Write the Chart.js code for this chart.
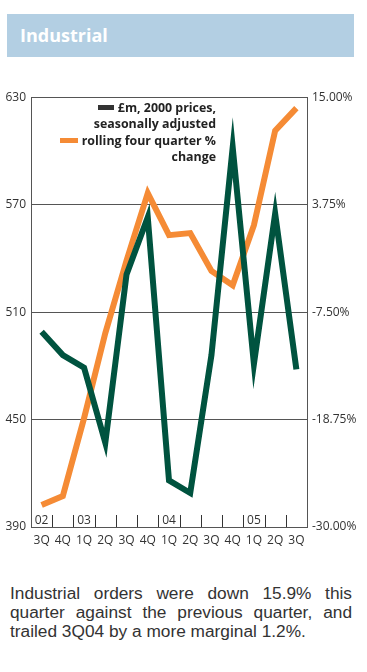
<!DOCTYPE html>
<html>
<head>
<meta charset="utf-8">
<script src="https://cdn.jsdelivr.net/npm/chart.js@4.4.1/dist/chart.umd.min.js"></script>
<style>
  html, body { margin: 0; padding: 0; background: #fff; }
  body { width: 367px; height: 672px; position: relative; overflow: hidden; }
  .header {
    position: absolute; left: 7px; top: 14px; width: 347px; height: 43px;
    background: #b3cfe3; box-sizing: border-box; padding: 9px 0 0 13px;
    color: #fff; font: bold 18px/24px "Open Sans", sans-serif;
  }
  .chart-wrap { position: absolute; left: 0; top: 85px; width: 367px; height: 470px; }
  .legend {
    position: absolute; right: 151px; top: 100px; text-align: right;
    font: bold 12.4px/16.3px "Open Sans", sans-serif; color: #222; z-index: 2;
  }
  .swatch { display: inline-block; height: 5px; vertical-align: middle; margin-right: 4px; position: relative; top: -1px; }
  .note {
    position: absolute; left: 10px; top: 584px; width: 342px;
    font: 17.3px/19px "Liberation Sans", Arial, sans-serif; color: #333;
  }
  .note div { text-align: justify; text-align-last: justify; }
  .note div.last { text-align-last: left; }
</style>
</head>
<body>
<div class="header">Industrial</div>
<div class="chart-wrap"><canvas id="chart" width="367" height="470"></canvas></div>
<div class="legend">
  <div><span class="swatch" style="width:16px;background:#333"></span>£m, 2000 prices,</div>
  <div>seasonally adjusted</div>
  <div><span class="swatch" style="width:18px;background:#f58b35"></span>rolling four quarter %</div>
  <div>change</div>
</div>
<div class="note">
  <div>Industrial orders were down 15.9% this</div>
  <div>quarter against the previous quarter, and</div>
  <div class="last">trailed 3Q04 by a more marginal 1.2%.</div>
</div>
<script>
const quarterLabels = ["3Q", "4Q", "1Q", "2Q", "3Q", "4Q", "1Q", "2Q", "3Q", "4Q", "1Q", "2Q", "3Q"];
const yearLabels = ["02", "", "03", "", "", "", "04", "", "", "", "05", "", ""];
const ordersValues = [499, 486, 479, 437, 531, 563, 416, 409, 486, 602, 481, 565, 478];
const changeValues = [-27.7, -26.75, -18.6, -9.7, -2.1, 4.95, 0.56, 0.77, -3.2, -4.7, 1.6, 11.5, 13.85];
const leftTicks = [390, 450, 510, 570, 630];
const rightTicks = [-30, -18.75, -7.5, 3.75, 15];

const TICK_FONT = { family: "\"Open Sans\", sans-serif", size: 12 };
const AXIS_COLOR = "#555";

// short boundary marks and year labels sit inside the plot, on the bottom edge
const yearMarks = {
  id: "yearMarks",
  beforeDatasetsDraw(chart) {
    const { ctx, chartArea, scales } = chart;
    const x = scales.x;
    ctx.save();
    ctx.strokeStyle = "#333";
    ctx.lineWidth = 1;
    for (let i = 0; i < quarterLabels.length - 1; i++) {
      const px = Math.round((x.getPixelForValue(i) + x.getPixelForValue(i + 1)) / 2) + 0.5;
      ctx.beginPath();
      ctx.moveTo(px, chartArea.bottom);
      ctx.lineTo(px, chartArea.bottom - 12);
      ctx.stroke();
    }
    ctx.fillStyle = "#333";
    ctx.font = "12px \"Open Sans\", sans-serif";
    ctx.textAlign = "center";
    ctx.textBaseline = "alphabetic";
    yearLabels.forEach((label, i) => {
      if (label) {
        ctx.fillText(label, x.getPixelForValue(i), chartArea.bottom - 3.5);
      }
    });
    ctx.restore();
    // sharp joins like the original artwork
    ctx.miterLimit = 20;
  }
};

new Chart(document.getElementById("chart"), {
  type: "line",
  data: {
    labels: quarterLabels,
    datasets: [
      {
        label: "£m, 2000 prices, seasonally adjusted",
        data: ordersValues,
        yAxisID: "y",
        borderColor: "#00533f",
        borderWidth: 6,
        borderJoinStyle: "miter",
        pointRadius: 0,
        tension: 0
      },
      {
        label: "rolling four quarter % change",
        data: changeValues,
        yAxisID: "y1",
        borderColor: "#f58b35",
        borderWidth: 6,
        borderJoinStyle: "miter",
        pointRadius: 0,
        tension: 0
      }
    ]
  },
  options: {
    responsive: false,
    animation: false,
    devicePixelRatio: 1,
    layout: { padding: { top: 12, left: 0, right: 0, bottom: 0 } },
    plugins: { legend: { display: false }, tooltip: { enabled: false } },
    scales: {
      x: {
        offset: true,
        grid: { display: false, drawTicks: false },
        border: { display: true, color: AXIS_COLOR, width: 1 },
        ticks: { color: "#333", font: TICK_FONT, padding: 6, autoSkip: false, maxRotation: 0 },
        afterFit(scale) { scale.height = 28; }
      },
      y: {
        position: "left",
        min: 390,
        max: 630,
        afterBuildTicks(scale) { scale.ticks = leftTicks.map((value) => ({ value })); },
        grid: { color: AXIS_COLOR, lineWidth: 1, drawTicks: false },
        border: { display: true, color: AXIS_COLOR, width: 1 },
        ticks: { color: "#333", font: TICK_FONT, padding: 5 },
        afterFit(scale) { scale.width = 31; }
      },
      y1: {
        position: "right",
        min: -30,
        max: 15,
        afterBuildTicks(scale) { scale.ticks = rightTicks.map((value) => ({ value })); },
        grid: { display: false, drawTicks: false },
        border: { display: true, color: AXIS_COLOR, width: 1 },
        ticks: {
          color: "#333",
          font: TICK_FONT,
          padding: 5,
          callback: (value) => Number(value).toFixed(2) + "%"
        },
        afterFit(scale) { scale.width = 60; }
      }
    }
  },
  plugins: [yearMarks]
});
</script>
</body>
</html>
